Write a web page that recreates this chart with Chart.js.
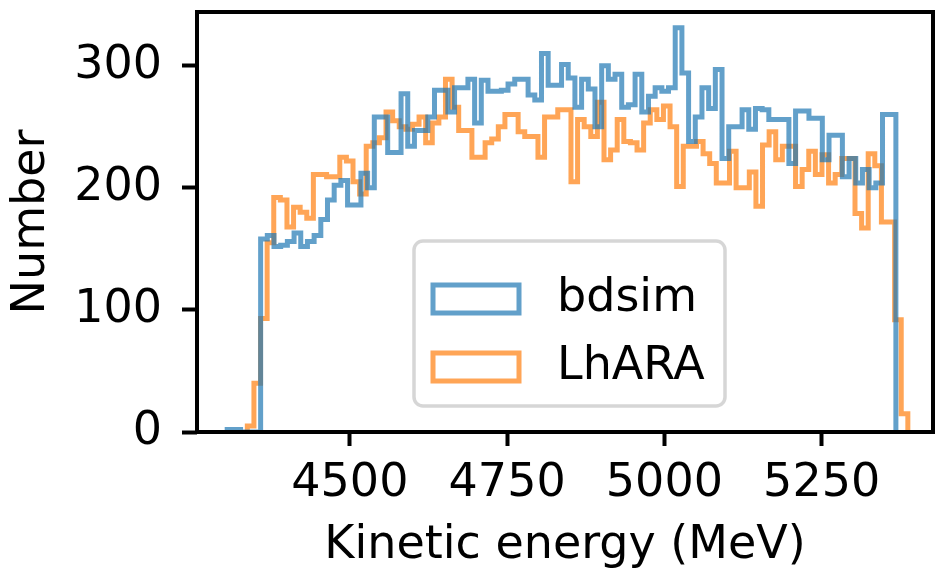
<!DOCTYPE html>
<html>
<head>
<meta charset="utf-8">
<script src="https://cdn.jsdelivr.net/npm/chart.js@4"></script>
<style>
  html, body { margin: 0; padding: 0; background: #fff; }
</style>
</head>
<body>
<canvas id="myChart" width="937" height="574"></canvas>
<script>
// tick positions
const xTicks = [4500, 4750, 5000, 5250];
const yTicks = [0, 100, 200, 300];

// histogram ranges (MeV), 100 bins each
const bdsimRange = [4305, 5368];
const lharaRange = [4337, 5387];

// counts per bin
const bdsimCounts = [
  2, 2, 0, 0, 0, 158, 161, 152, 153, 156,
  163, 152, 156, 161, 174, 190, 202, 206, 186, 186,
  212, 200, 258, 258, 229, 229, 277, 234, 247, 247,
  258, 280, 280, 262, 282, 282, 289, 253, 288, 279,
  279, 280, 285, 289, 289, 276, 272, 310, 284, 284,
  301, 290, 266, 289, 281, 250, 300, 289, 293, 266,
  268, 293, 262, 275, 282, 279, 282, 331, 294, 238,
  258, 282, 265, 297, 224, 250, 250, 264, 248, 265,
  264, 256, 256, 256, 220, 263, 263, 257, 257, 223,
  243, 243, 209, 224, 204, 215, 200, 204, 260, 260
];
const lharaCounts = [
  5, 40, 93, 155, 192, 190, 168, 184, 180, 175,
  211, 211, 209, 209, 225, 222, 205, 195, 234, 237,
  241, 262, 255, 250, 248, 252, 258, 237, 253, 258,
  289, 266, 247, 247, 225, 225, 237, 240, 250, 260,
  260, 246, 242, 242, 225, 258, 258, 264, 264, 205,
  256, 250, 242, 270, 223, 231, 256, 238, 237, 231,
  253, 264, 256, 267, 250, 201, 234, 234, 238, 228,
  220, 204, 204, 230, 200, 200, 213, 185, 235, 246,
  223, 234, 234, 201, 215, 230, 211, 227, 204, 211,
  224, 224, 179, 167, 228, 218, 172, 172, 92, 15
];

// outline of a step histogram, as points for a stepped line
function stepPoints(range, counts) {
  const w = (range[1] - range[0]) / counts.length;
  const pts = [{ x: range[0], y: 0 }];
  counts.forEach((c, i) => pts.push({ x: range[0] + i * w, y: c }));
  pts.push({ x: range[1], y: 0 });
  return pts;
}

const font = { family: "'DejaVu Sans', sans-serif", size: 46 };

// spines drawn over the lines, like matplotlib
const frame = {
  id: "frame",
  afterDatasetsDraw(chart) {
    const { ctx, chartArea: a } = chart;
    ctx.save();
    ctx.strokeStyle = "#000";
    ctx.lineWidth = 4;
    ctx.strokeRect(a.left, a.top, a.right - a.left, a.bottom - a.top);
    ctx.restore();
  },
};

// matplotlib style legend box inside the axes
const legendBox = {
  id: "legendBox",
  afterDraw(chart) {
    const ctx = chart.ctx;
    ctx.save();
    ctx.beginPath();
    ctx.roundRect(414, 241, 311, 165, 9);
    ctx.fillStyle = "rgba(255,255,255,0.8)";
    ctx.fill();
    ctx.strokeStyle = "rgba(204,204,204,0.8)";
    ctx.lineWidth = 3.5;
    ctx.stroke();
    chart.data.datasets.forEach((ds, i) => {
      const y = 299 + i * 68;
      ctx.strokeStyle = ds.borderColor;
      ctx.lineWidth = ds.borderWidth;
      ctx.strokeRect(433, y - 14, 86, 28);
      ctx.fillStyle = "#000";
      ctx.font = "46px 'DejaVu Sans'";
      ctx.textBaseline = "middle";
      ctx.fillText(ds.label, 557, y);
    });
    ctx.restore();
  },
};

const ctx = document.getElementById("myChart").getContext("2d");
const myChart = new Chart(ctx, {
  type: "line",
  data: {
    datasets: [
      {
        label: "bdsim",
        data: stepPoints(bdsimRange, bdsimCounts),
        borderColor: "rgba(31,119,180,0.7)",
        borderWidth: 5,
        stepped: true,
        pointRadius: 0,
        fill: false,
      },
      {
        label: "LhARA",
        data: stepPoints(lharaRange, lharaCounts),
        borderColor: "rgba(255,127,14,0.7)",
        borderWidth: 5,
        stepped: true,
        pointRadius: 0,
        fill: false,
      },
    ],
  },
  options: {
    responsive: false,
    animation: false,
    devicePixelRatio: 1,
    layout: { padding: { left: 0, right: 4, top: 12, bottom: 0 } },
    plugins: { legend: { display: false }, tooltip: { enabled: false } },
    scales: {
      x: {
        type: "linear",
        min: 4257,
        max: 5427,
        afterBuildTicks: (axis) => {
          axis.ticks = xTicks.map((v) => ({ value: v }));
        },
        afterFit: (axis) => {
          axis.height = 142;
          axis.paddingLeft = 0;
          axis.paddingRight = 0;
        },
        border: { display: false },
        grid: {
          drawOnChartArea: false,
          tickLength: 14,
          tickWidth: 4,
          tickColor: "#000",
        },
        ticks: {
          color: "#000",
          font: font,
          padding: 10,
          maxRotation: 0,
          callback: (v) => String(v),
        },
        title: {
          display: true,
          text: "Kinetic energy (MeV)",
          color: "#000",
          font: font,
          padding: { top: 0, bottom: 0 },
        },
      },
      y: {
        min: 0,
        max: 344,
        afterBuildTicks: (axis) => {
          axis.ticks = yTicks.map((v) => ({ value: v }));
        },
        afterFit: (axis) => {
          axis.width = 197;
          axis.paddingTop = 0;
          axis.paddingBottom = 0;
        },
        border: { display: false },
        grid: {
          drawOnChartArea: false,
          tickLength: 15,
          tickWidth: 4,
          tickColor: "#000",
        },
        ticks: { color: "#000", font: font, padding: 20, callback: (v) => String(v) },
        title: {
          display: true,
          text: "Number",
          color: "#000",
          font: font,
          padding: { top: 4, bottom: 0 },
        },
      },
    },
  },
  plugins: [frame, legendBox],
});
</script>
</body>
</html>
